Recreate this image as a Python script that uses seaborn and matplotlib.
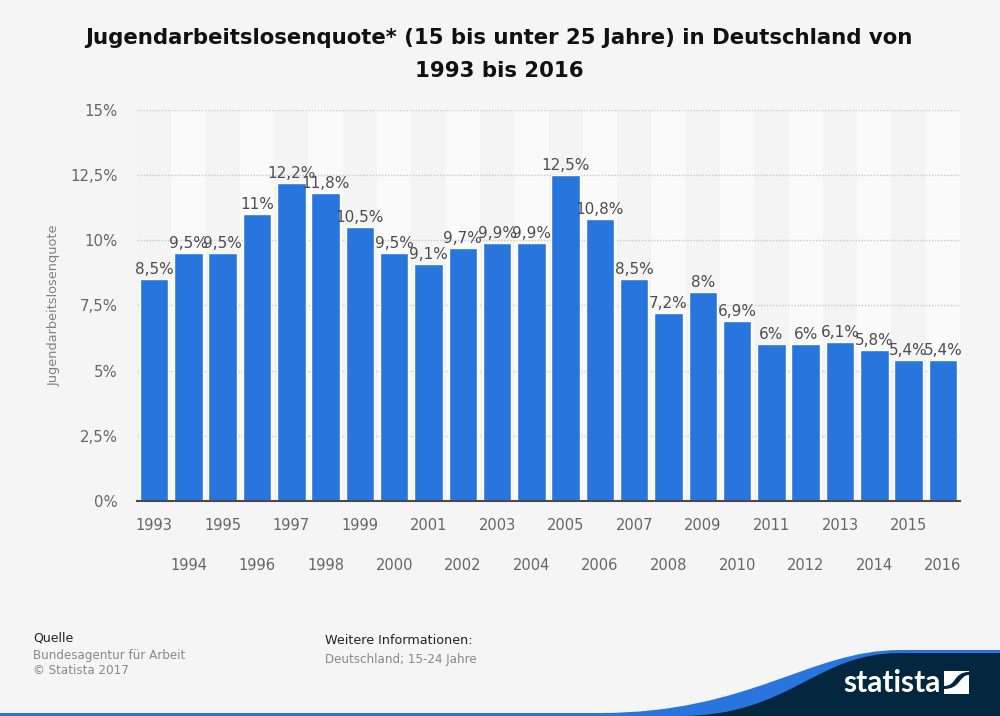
import matplotlib
matplotlib.use("Agg")
import matplotlib.pyplot as plt
from matplotlib.patches import PathPatch, Polygon
from matplotlib.path import Path
import seaborn as sns
import pandas as pd

years = [str(y) for y in range(1993, 2017)]
quote = [8.5, 9.5, 9.5, 11, 12.2, 11.8, 10.5, 9.5, 9.1, 9.7, 9.9, 9.9,
         12.5, 10.8, 8.5, 7.2, 8, 6.9, 6, 6, 6.1, 5.8, 5.4, 5.4]
y_ticks = [0, 2.5, 5, 7.5, 10, 12.5, 15]
y_labels = ["0%", "2,5%", "5%", "7,5%", "10%", "12,5%", "15%"]

BG = "#f5f5f5"
BLUE = "#2975de"
NAVY = "#03273f"

sns.set_theme(style="white", rc={"font.family": "DejaVu Sans"})
df = pd.DataFrame({"year": years, "quote": quote})

fig = plt.figure(figsize=(10, 7.16), dpi=100, facecolor=BG)
ax = fig.add_axes([0.137, 1 - 501 / 716, 0.823, (501 - 109.7) / 716], facecolor=BG)

# alternating column bands behind the bars
for i in range(1, len(years), 2):
    ax.axvspan(i - 0.5, i + 0.5, color="#fafafa", lw=0, zorder=0)
for i in range(0, len(years), 2):
    ax.axvspan(i - 0.5, i + 0.5, color="#f4f4f4", lw=0, zorder=0)

sns.barplot(data=df, x="year", y="quote", color=BLUE, saturation=1, width=0.83,
            ax=ax, zorder=3)

ax.set_xlim(-0.5, 23.5)
ax.set_ylim(0, 15)
ax.set_yticks(y_ticks, y_labels)
ax.yaxis.grid(True, color="#c8c8c8", linestyle=(0, (1, 1.2)), linewidth=1.0)
ax.set_axisbelow(True)
for s in ["top", "right", "left"]:
    ax.spines[s].set_visible(False)
ax.spines["bottom"].set_color("#4a4a4a")
ax.spines["bottom"].set_linewidth(1.5)
ax.spines["bottom"].set_zorder(5)
ax.tick_params(axis="y", length=0, pad=14, labelsize=10.7, labelcolor="#666666")
ax.tick_params(axis="x", length=0, labelsize=10.5, labelcolor="#666666")
ax.set_xlabel("")
ax.set_ylabel("Jugendarbeitslosenquote", fontsize=9.3, color="#7f7f7f", labelpad=0)
ax.yaxis.set_label_coords(-0.093, 0.5)

# every second year goes on a lower row
for i, tick in enumerate(ax.xaxis.get_major_ticks()):
    tick.set_pad(41 if i % 2 else 12)

labels = [f"{v:g}%".replace(".", ",") for v in quote]
ax.bar_label(ax.containers[0], labels=labels, padding=1.5, fontsize=11,
             color="#4d4d4d", zorder=6)

fig.text(0.499, 1 - 38 / 716, "Jugendarbeitslosenquote* (15 bis unter 25 Jahre) in Deutschland von",
         ha="center", va="center", fontsize=15.3, fontweight="bold", color="#111111")
fig.text(0.499, 1 - 71 / 716, "1993 bis 2016",
         ha="center", va="center", fontsize=15.3, fontweight="bold", color="#111111")

fig.text(33 / 1000, 1 - 638 / 716, "Quelle", va="center", fontsize=9, color="#222222")
fig.text(33 / 1000, 1 - 655 / 716, "Bundesagentur für Arbeit", va="center", fontsize=8.6, color="#888888")
fig.text(33 / 1000, 1 - 671 / 716, "© Statista 2017", va="center", fontsize=8.6, color="#888888")
fig.text(325 / 1000, 1 - 641 / 716, "Weitere Informationen:", va="center", fontsize=9.2, color="#222222")
fig.text(325 / 1000, 1 - 659 / 716, "Deutschland; 15-24 Jahre", va="center", fontsize=8.6, color="#888888")

# footer swoosh and logo, in pixel coordinates of the picture
deco = fig.add_axes([0, 0, 1, 1], facecolor="none", zorder=10)
deco.set_xlim(0, 1000)
deco.set_ylim(716, 0)
deco.axis("off")

C = Path.CURVE4
blue_path = Path([(0, 713), (600, 713), (750, 713), (810, 650), (900, 650), (1000, 650),
                  (1000, 716), (0, 716), (0, 713)],
                 [Path.MOVETO, Path.LINETO, C, C, C, Path.LINETO, Path.LINETO, Path.LINETO, Path.CLOSEPOLY])
deco.add_patch(PathPatch(blue_path, fc=BLUE, lw=0))
navy_path = Path([(680, 716), (790, 716), (815, 653), (900, 653), (1000, 653),
                  (1000, 716), (680, 716)],
                 [Path.MOVETO, C, C, C, Path.LINETO, Path.LINETO, Path.CLOSEPOLY])
deco.add_patch(PathPatch(navy_path, fc=NAVY, lw=0))

deco.text(843, 683, "statista", color="white", fontsize=21.5, fontweight="bold",
          family="Lato", va="center", ha="left")
deco.add_patch(Polygon([(944, 671), (969, 671), (969, 694), (944, 694)], fc="white", lw=0))
band = Path([(944, 686), (957, 686), (953, 672), (969, 672), (969, 675), (959, 675), (961, 689), (944, 689), (944, 686)],
            [Path.MOVETO, C, C, C, Path.LINETO, C, C, C, Path.CLOSEPOLY])
deco.add_patch(PathPatch(band, fc=NAVY, lw=0))

fig.savefig("out.png", dpi=100, facecolor=BG)
plt.close(fig)
